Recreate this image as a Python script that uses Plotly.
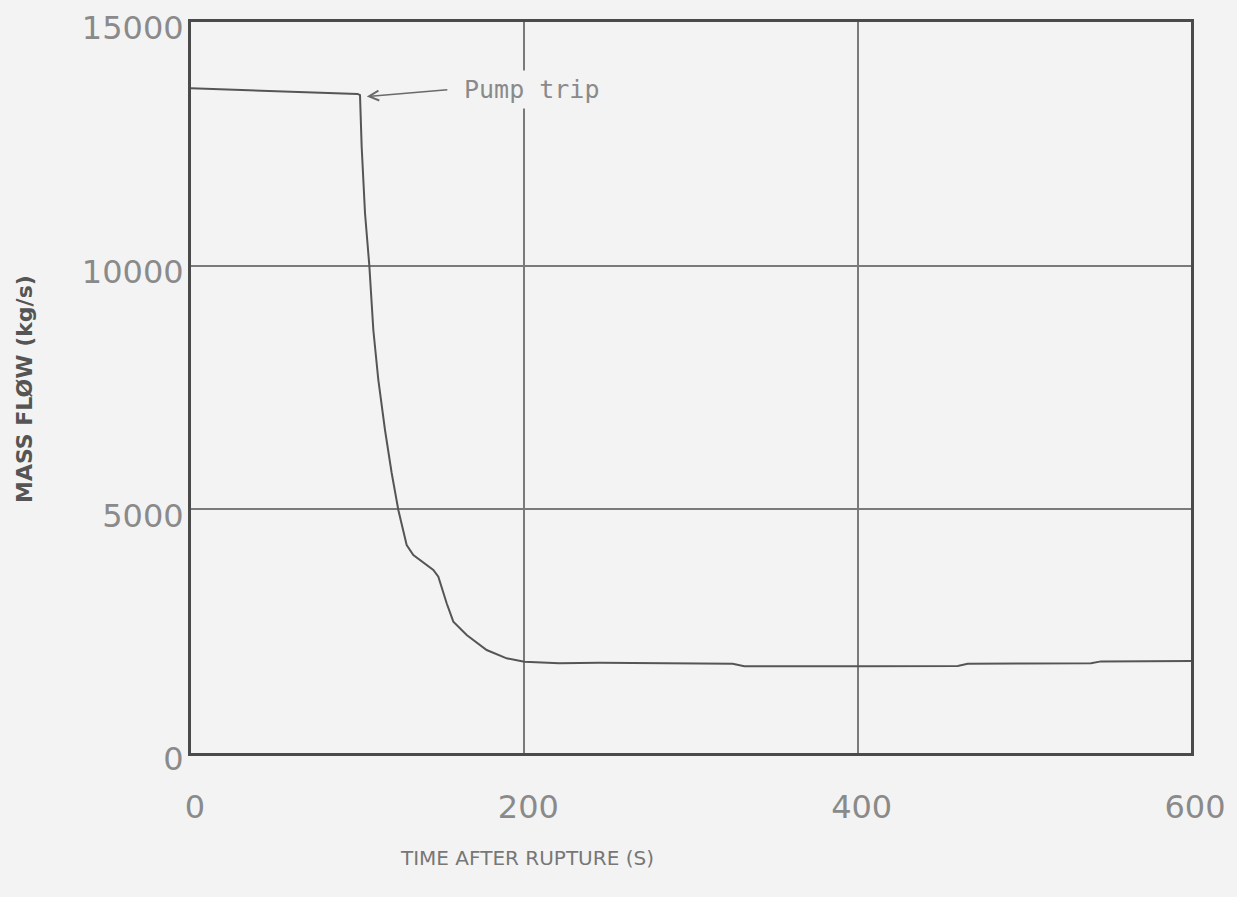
import plotly.graph_objects as go

# Data
time_s = [0, 30, 60, 90, 97, 100, 101.4, 102.4, 104.4, 107, 109.4, 112.4, 116.4,
          120.4, 124.4, 129.4, 133.4, 140, 145.4, 148.4, 153.4, 157.4, 165.4,
          177.4, 189.4, 200, 221, 245, 280, 325, 332, 360, 400, 460, 466, 500,
          540, 546, 600]
mass_flow = [13640, 13610, 13580, 13550, 13543, 13525, 13500, 12441, 11081, 10000,
             8680, 7654, 6628, 5746, 4986, 4268, 4063, 3900, 3755, 3618, 3072,
             2694, 2421, 2113, 1943, 1874, 1840, 1850, 1835, 1830, 1780, 1775,
             1780, 1785, 1830, 1835, 1840, 1880, 1890]

x_ticks = [0, 200, 400, 600]
y_ticks = [0, 5000, 10000, 15000]

annot_point = (105.5, 13470)
annot_text = "Pump trip"

bg = "#f3f3f3"
fig = go.Figure()
fig.add_trace(go.Scatter(x=time_s, y=mass_flow, mode="lines",
                         line=dict(color="#555555", width=2), showlegend=False,
                         hoverinfo="skip"))

fig.update_layout(
    width=1237, height=897,
    margin=dict(l=191, r=46, t=22, b=144, autoexpand=False),
    paper_bgcolor=bg, plot_bgcolor=bg,
    showlegend=False,
)
fig.update_xaxes(range=[0, 600], tickvals=x_ticks, ticktext=[str(v) for v in x_ticks],
                 showgrid=True, gridcolor="#7a7a7a", gridwidth=1.5,
                 showline=True, mirror=True, linecolor="#4a4a4a", linewidth=3,
                 zeroline=False, ticks="", ticklabelstandoff=24, ticklabelshift=4,
                 automargin=False,
                 tickfont=dict(family="DejaVu Sans", size=32, color="#8a8a8a"))
fig.update_yaxes(range=[0, 15000], tickvals=y_ticks, ticktext=[str(v) for v in y_ticks],
                 showgrid=True, gridcolor="#7a7a7a", gridwidth=1.5,
                 showline=True, mirror=True, linecolor="#4a4a4a", linewidth=3,
                 zeroline=False, ticks="", ticklabelstandoff=-2, ticklabelshift=6,
                 automargin=False,
                 tickfont=dict(family="DejaVu Sans", size=32, color="#8a8a8a"))

# arrow
fig.add_annotation(x=annot_point[0], y=annot_point[1], xref="x", yref="y",
                   text="", showarrow=True, arrowhead=5, arrowsize=1.3,
                   arrowwidth=1.5, arrowcolor="#6a6a6a", ax=82, ay=-7,
                   standoff=0)
# label
fig.add_annotation(x=(459 - 191) / 1000, y=(753 - 89) / 731, xref="paper", yref="paper",
                   text=annot_text,
                   showarrow=False, xanchor="left", yanchor="middle",
                   font=dict(family="DejaVu Sans Mono", size=25, color="#8a8a8a"),
                   bgcolor=bg, borderpad=4)
# axis titles
fig.add_annotation(x=(527 - 191) / 1000, y=(753 - 858) / 731, xref="paper", yref="paper",
                   text="TIME AFTER RUPTURE (S)", showarrow=False,
                   xanchor="center", yanchor="middle",
                   font=dict(family="DejaVu Sans", size=20, color="#777777"))
fig.add_annotation(x=(25 - 191) / 1000, y=(753 - 389) / 731, xref="paper", yref="paper",
                   text="<b>MASS FLØW (kg/s)</b>", showarrow=False, textangle=-90,
                   xanchor="center", yanchor="middle",
                   font=dict(family="DejaVu Sans", size=22, color="#555555"))

fig.write_html("out.html")
